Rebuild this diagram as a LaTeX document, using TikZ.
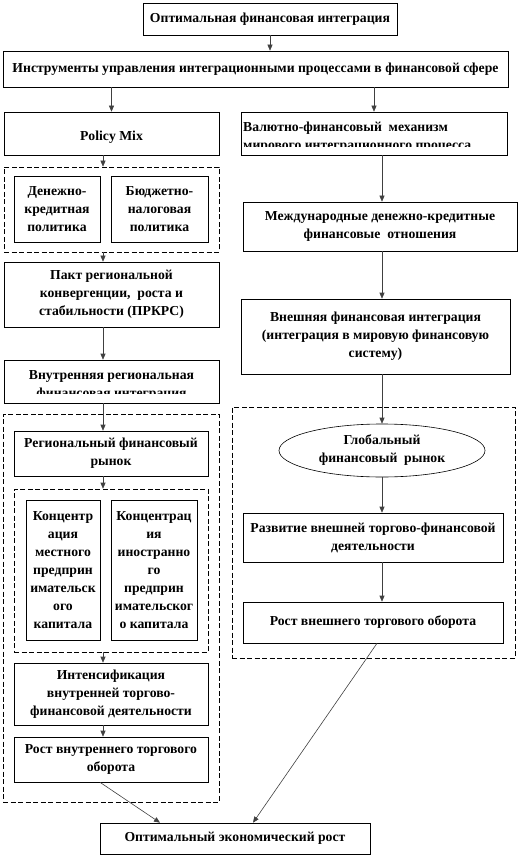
\documentclass[tikz,border=0pt]{standalone}
\usepackage{fontspec}
\setmainfont{Liberation Serif}
\usepackage{tikz}
\usetikzlibrary{arrows.meta,shapes.geometric}

\begin{document}
\begin{tikzpicture}[
  x=1pt, y=-1pt,
  font=\fontsize{13.7}{18}\selectfont\bfseries,
  box/.style={draw, line width=0.6pt, align=center, inner sep=0pt},
  group/.style={draw, dashed, dash pattern=on 5pt off 2.5pt, line width=0.6pt, inner sep=0pt},
  oval/.style={box, ellipse},
  txt/.style={inner sep=0pt, align=left},
  arrow/.style={-{Triangle[width=5pt,length=6pt]}, draw=black!75, line width=0.6pt},
  link/.style={draw=black!75, line width=0.6pt}
]
\useasboundingbox (0,0) rectangle (520,858);
\coordinate (lcol) at (103,0);
\coordinate (rcol) at (382,0);

% top
\node[box, minimum width=254pt, minimum height=32pt] (optint) at (270,19) {Оптимальная финансовая интеграция};
\node[box, minimum width=505pt, minimum height=36pt] (tools) at (255.5,69) {Инструменты управления интеграционными процессами в финансовой сфере};

% left column
\node[box, minimum width=215pt, minimum height=43pt, text height=15pt, text depth=0pt] (policy) at (111.5,133.5) {Policy Mix};
\node[group, minimum width=215pt, minimum height=85pt] (polgroup) at (111.5,209.5) {};
\node[box, minimum width=86pt, minimum height=66pt] (monpol) at (57,209) {Денежно-\\кредитная\\политика};
\node[box, minimum width=97pt, minimum height=66pt] (budpol) at (159.5,209) {Бюджетно-\\налоговая\\политика};
\node[box, minimum width=215pt, minimum height=65pt] (pact) at (111.5,294.5) {Пакт региональной\\конвергенции,~ роста и\\стабильности (ПРКРС)};
\node[box, minimum width=215pt, minimum height=43pt] (intreg) at (111.5,381.5) {};
\begin{scope}
  \clip (4,360) rectangle (219,393);
  \node[txt, align=center, anchor=north] (intregtext) at (111.5,370) {Внутренняя региональная\\финансовая интеграция};
\end{scope}
\node[group, minimum width=216pt, minimum height=388pt] (intgroup) at (111,608) {};
\node[box, minimum width=194pt, minimum height=45pt] (regmkt) at (111,453.5) {Региональный финансовый\\рынок};
\node[group, minimum width=194pt, minimum height=163pt] (concgroup) at (111,570.5) {};
\node[box, minimum width=74pt, minimum height=140pt] (locconc) at (63,570) {Концентр\\ация\\местного\\предприн\\имательск\\ого\\капитала};
\node[box, minimum width=86pt, minimum height=140pt] (forconc) at (154,570) {Концентрац\\ия\\иностранно\\го\\предприн\\имательског\\о капитала};
\node[box, minimum width=194pt, minimum height=62pt] (intens) at (111,694) {Интенсификация\\внутренней торгово-\\финансовой деятельности};
\node[box, minimum width=194pt, minimum height=45pt] (intgrowth) at (111,759.5) {Рост внутреннего торгового\\оборота};

% right column
\node[box, minimum width=266pt, minimum height=43pt] (valmech) at (374,133.5) {};
\begin{scope}
  \clip (241,112) rectangle (507,147);
  \node[txt, anchor=north west] (valtext) at (243,122) {Валютно-финансовый~ механизм\\мирового интеграционного процесса};
\end{scope}
\node[box, minimum width=274pt, minimum height=49pt] (mezhd) at (380,226.5) {Международные денежно-кредитные\\финансовые~ отношения};
\node[box, minimum width=269pt, minimum height=75pt] (extint) at (375.5,336.5) {Внешняя финансовая интеграция\\(интеграция в мировую финансовую\\систему)};
\node[group, minimum width=283pt, minimum height=251pt] (extgroup) at (373.5,532.5) {};
\node[oval, minimum width=206pt, minimum height=53pt] (globmkt) at (382,450.5) {Глобальный\\финансовый~ рынок};
\node[box, minimum width=260pt, minimum height=49pt] (extdev) at (373,537.5) {Развитие внешней торгово-финансовой\\деятельности};
\node[box, minimum width=260pt, minimum height=41pt] (extgrowth) at (373,622.5) {Рост внешнего торгового оборота};

% bottom
\node[box, minimum width=270pt, minimum height=31pt] (optgrowth) at (235,838.5) {Оптимальный экономический рост};

% connectors
\draw[arrow] (optint.south) -- (optint.south |- tools.north);
\draw[arrow] (policy.north |- tools.south) -- (policy.north);
\draw[arrow] (valmech.north |- tools.south) -- (valmech.north);
\draw[arrow] (lcol |- policy.south) -- (lcol |- polgroup.north);
\draw[arrow] (lcol |- polgroup.south) -- (lcol |- pact.north);
\draw[arrow] (lcol |- pact.south) -- (lcol |- intreg.north);
\draw[arrow] (lcol |- intreg.south) -- (lcol |- regmkt.north);
\draw[arrow] (lcol |- regmkt.south) -- (lcol |- concgroup.north);
\draw[arrow] (lcol |- concgroup.south) -- (lcol |- intens.north);
\draw[arrow] (lcol |- intens.south) -- (lcol |- intgrowth.north);
\draw[arrow] ([xshift=-11pt]intgrowth.south) -- ([xshift=-75pt]optgrowth.north);
\draw[arrow] (rcol |- valmech.south) -- (rcol |- mezhd.north);
\draw[arrow] (rcol |- mezhd.south) -- (rcol |- extint.north);
\draw[arrow] (rcol |- extint.south) -- (globmkt.north);
\draw[arrow] (globmkt.south) -- (rcol |- extdev.north);
\draw[arrow] (rcol |- extdev.south) -- (rcol |- extgrowth.north);
\draw[arrow] ([xshift=4pt]extgrowth.south) -- ([xshift=18pt]optgrowth.north);
\end{tikzpicture}
\end{document}
